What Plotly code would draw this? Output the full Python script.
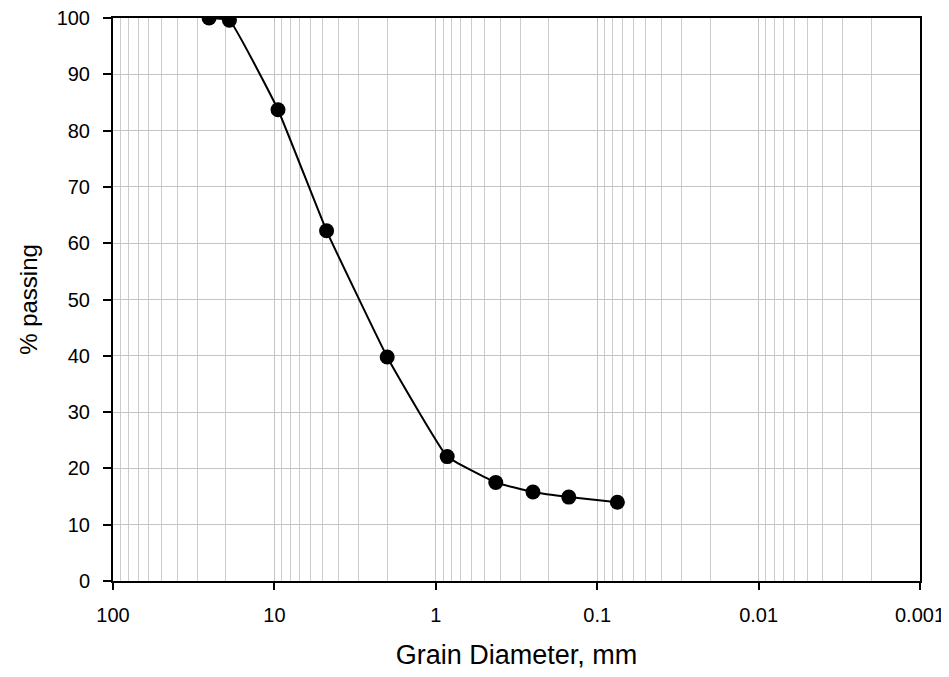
import plotly.graph_objects as go

grain_diameter_mm = [25.4, 19.0, 9.5, 4.75, 2.0, 0.85, 0.425, 0.25, 0.15, 0.075]
percent_passing = [100.0, 99.6, 83.7, 62.2, 39.8, 22.1, 17.5, 15.8, 14.9, 14.0]

x_tick_values = [100, 10, 1, 0.1, 0.01, 0.001]
x_tick_labels = ["100", "10", "1", "0.1", "0.01", "0.001"]
y_tick_values = [0, 10, 20, 30, 40, 50, 60, 70, 80, 90, 100]

# minor log grid positions (2..9 within each decade)
minor_x = [m * 10.0 ** e for e in range(-3, 2) for m in range(2, 10)]

FONT = "Liberation Sans, Arial, sans-serif"

fig = go.Figure()
fig.add_trace(go.Scatter(
    x=grain_diameter_mm,
    y=percent_passing,
    mode="lines+markers",
    line=dict(color="black", width=2, shape="spline", smoothing=0.3),
    marker=dict(color="black", size=15),
    showlegend=False,
))

# page body has an 8px default margin, so the figure is sized to fill the rest
fig.update_layout(
    width=941,
    height=669,
    margin=dict(l=105, r=29, t=10, b=96),
    paper_bgcolor="white",
    plot_bgcolor="white",
    font=dict(family=FONT, size=20, color="black"),
)

fig.update_xaxes(
    type="log",
    range=[2, -3],
    tickvals=x_tick_values,
    ticktext=x_tick_labels,
    ticks="outside",
    ticklen=7,
    tickwidth=1.5,
    tickcolor="black",
    showline=True,
    linecolor="black",
    linewidth=2,
    mirror=True,
    showgrid=True,
    gridcolor="#c4c4c4",
    gridwidth=1,
    minor=dict(showgrid=True, gridcolor="#cccccc", gridwidth=1, tickvals=minor_x, ticks=""),
    zeroline=False,
    automargin=False,
    ticklabeloverflow="allow",
    ticklabelstandoff=8,
    tickfont=dict(family=FONT, size=20),
    title=dict(text="Grain Diameter, mm", font=dict(family=FONT, size=27), standoff=20),
)

fig.update_yaxes(
    range=[0, 100],
    tickvals=y_tick_values,
    ticks="outside",
    ticklen=8,
    tickwidth=1.5,
    tickcolor="black",
    showline=True,
    linecolor="black",
    linewidth=2,
    mirror=True,
    showgrid=True,
    gridcolor="#c4c4c4",
    gridwidth=1,
    zeroline=False,
    automargin=False,
    ticklabeloverflow="allow",
    ticklabelstandoff=9,
    tickfont=dict(family=FONT, size=20),
    title=dict(text="% passing", font=dict(family=FONT, size=24), standoff=12),
)

fig.write_html("out.html")
